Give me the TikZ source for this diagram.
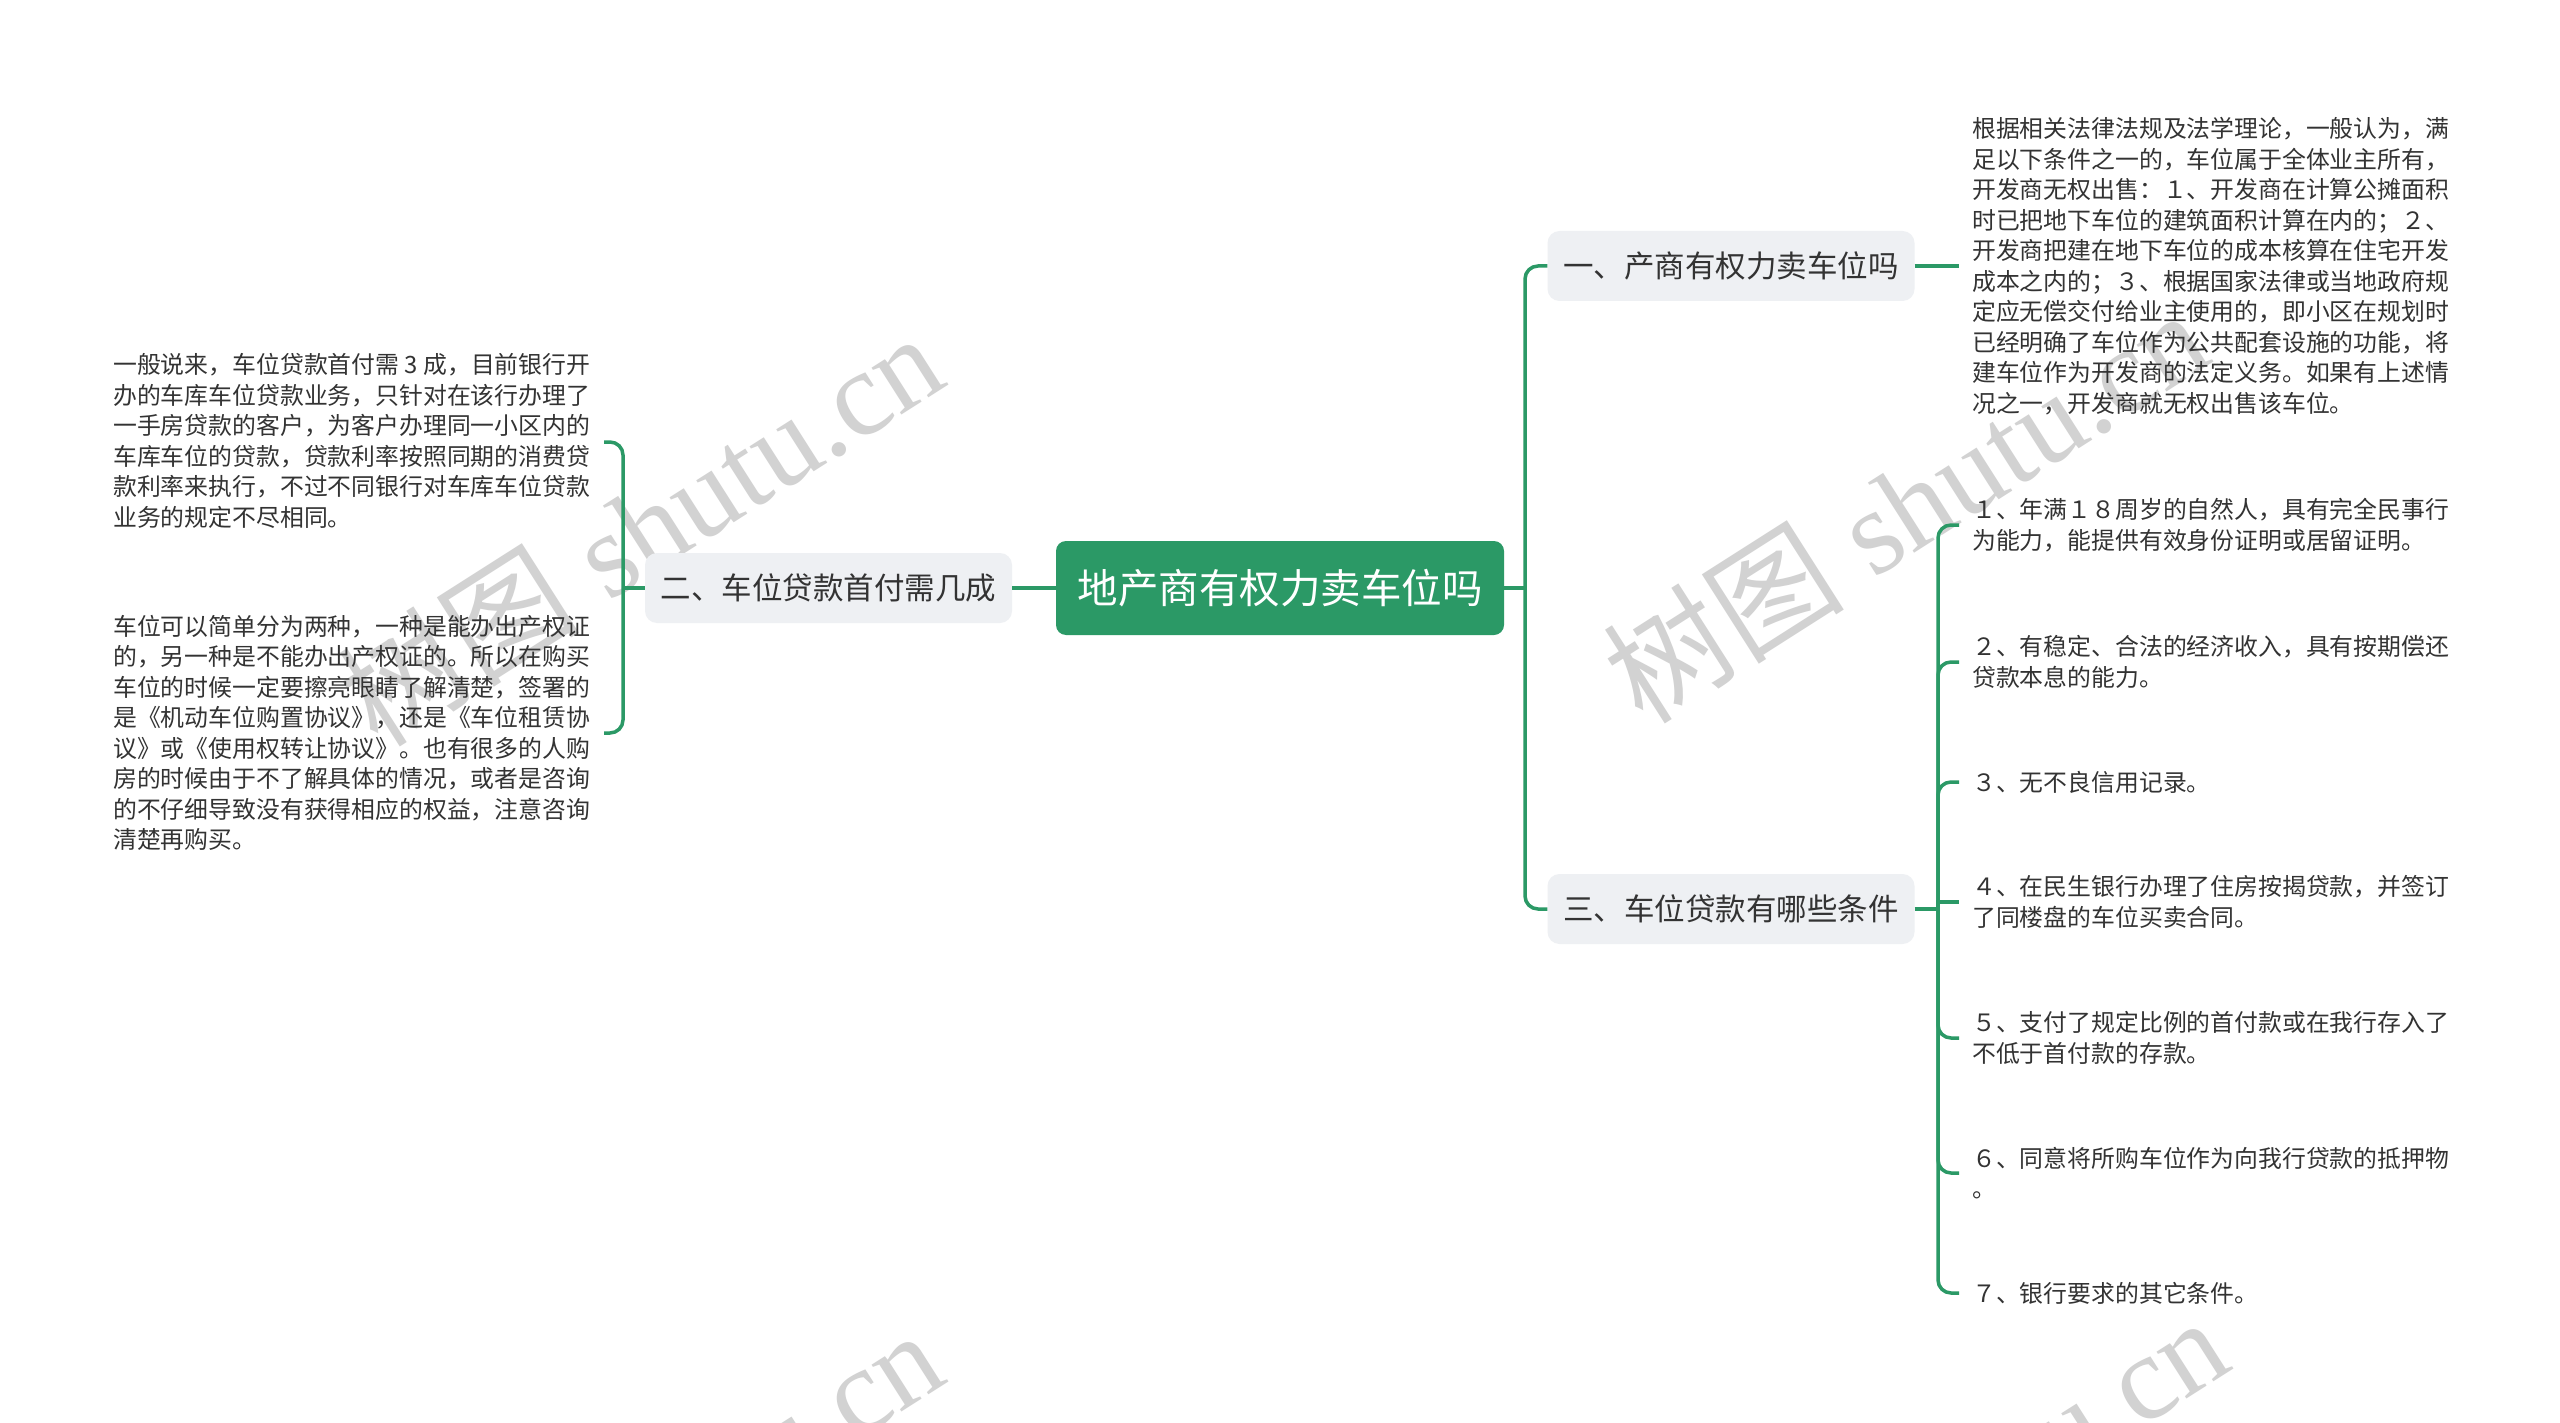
\documentclass[tikz,border=0pt]{standalone}
\usepackage{fontspec}
\setmainfont{Noto Sans CJK SC}
\newfontfamily\wmcjk{Noto Sans CJK SC}
\newfontfamily\wmlat{Liberation Serif}
\definecolor{mgreen}{RGB}{43,153,102}
\definecolor{nodegray}{RGB}{238,240,243}
\definecolor{txt}{RGB}{51,51,51}
\definecolor{wmgray}{RGB}{210,210,210}
\tikzset{
  conn/.style={draw=mgreen, line width=3.5pt, rounded corners=13pt},
  rootbox/.style={fill=mgreen, rounded corners=10pt, inner sep=0pt, minimum width=448pt, minimum height=94pt, text=white, font=\fontsize{40.5}{48}\selectfont},
  topicbox/.style={fill=nodegray, rounded corners=12pt, inner sep=0pt, minimum width=367pt, minimum height=70pt, text=txt, font=\fontsize{30.5}{36}\selectfont},
  leaftext/.style={anchor=west, align=left, inner sep=0pt, text=txt, font=\fontsize{23.85}{30.5}\selectfont},
  wmark/.style={rotate=32.5, text=wmgray, inner sep=0pt, font=\fontsize{121}{130}\selectfont}
}
\begin{document}
\begin{tikzpicture}[x=1pt,y=-1pt]
\clip (0,0) rectangle (2560,1423);
\fill[white] (0,0) rectangle (2560,1423);

% watermarks
\node[wmark] (wm1) at (640,528) {\wmcjk 树图\wmlat{} shutu.cn};
\node[wmark] (wm2) at (1905,505) {\wmcjk 树图\wmlat{} shutu.cn};
\node[wmark] (wm3) at (640,1525) {\wmcjk 树图\wmlat{} shutu.cn};
\node[wmark] (wm4) at (1925,1512) {\wmcjk 树图\wmlat{} shutu.cn};

% main nodes
\node[rootbox] (root) at (1280,588) {地产商有权力卖车位吗};
\node[topicbox] (t2) at (828.5,588) {二、车位贷款首付需几成};
\node[topicbox] (t1) at (1731,266) {一、产商有权力卖车位吗};
\node[topicbox] (t3) at (1731,909) {三、车位贷款有哪些条件};

% junctions
\coordinate (rj) at (1525,588);
\coordinate (lj) at (623,588);
\coordinate (bj) at (1938,909);
\coordinate (e1) at (1959,266);
\coordinate (l1) at (604,442);
\coordinate (l2) at (604,733);
\coordinate (r1) at (1959,525);
\coordinate (r2) at (1959,662);
\coordinate (r3) at (1959,782);
\coordinate (r4) at (1959,902);
\coordinate (r5) at (1959,1038);
\coordinate (r6) at (1959,1173);
\coordinate (r7) at (1959,1293);

% connectors
\draw[conn] (root.east) -- (rj);
\draw[conn] (rj) |- (t1.west);
\draw[conn] (rj) |- (t3.west);
\draw[conn] (root.west) -- (t2.east);
\draw[conn] (t2.west) -- (lj);
\draw[conn] (lj) |- (l1);
\draw[conn] (lj) |- (l2);
\draw[conn] (t1.east) -- (e1);
\draw[conn] (t3.east) -- (bj);
\draw[conn] (bj) |- (r1);
\draw[conn] (bj) |- (r2);
\draw[conn] (bj) |- (r3);
\draw[conn, sharp corners] (bj) |- (r4);
\draw[conn] (bj) |- (r5);
\draw[conn] (bj) |- (r6);
\draw[conn] (bj) |- (r7);

% texts
\node[leaftext] (d1) at (1972,266) {根据相关法律法规及法学理论，一般认为，满\\足以下条件之一的，车位属于全体业主所有，\\开发商无权出售：１、开发商在计算公摊面积\\时已把地下车位的建筑面积计算在内的；２、\\开发商把建在地下车位的成本核算在住宅开发\\成本之内的；３、根据国家法律或当地政府规\\定应无偿交付给业主使用的，即小区在规划时\\已经明确了车位作为公共配套设施的功能，将\\建车位作为开发商的法定义务。如果有上述情\\况之一，开发商就无权出售该车位。};

\node[leaftext] (a1) at (113,441) {一般说来，车位贷款首付需 3 成，目前银行开\\办的车库车位贷款业务，只针对在该行办理了\\一手房贷款的客户，为客户办理同一小区内的\\车库车位的贷款，贷款利率按照同期的消费贷\\款利率来执行，不过不同银行对车库车位贷款\\业务的规定不尽相同。};
\node[leaftext] (a2) at (113,733) {车位可以简单分为两种，一种是能办出产权证\\的，另一种是不能办出产权证的。所以在购买\\车位的时候一定要擦亮眼睛了解清楚，签署的\\是《机动车位购置协议》，还是《车位租赁协\\议》或《使用权转让协议》。也有很多的人购\\房的时候由于不了解具体的情况，或者是咨询\\的不仔细导致没有获得相应的权益，注意咨询\\清楚再购买。};

\node[leaftext] (c1) at (1972,525) {１、年满１８周岁的自然人，具有完全民事行\\为能力，能提供有效身份证明或居留证明。};
\node[leaftext] (c2) at (1972,662) {２、有稳定、合法的经济收入，具有按期偿还\\贷款本息的能力。};
\node[leaftext] (c3) at (1972,782) {３、无不良信用记录。};
\node[leaftext] (c4) at (1972,902) {４、在民生银行办理了住房按揭贷款，并签订\\了同楼盘的车位买卖合同。};
\node[leaftext] (c5) at (1972,1038) {５、支付了规定比例的首付款或在我行存入了\\不低于首付款的存款。};
\node[leaftext] (c6) at (1972,1173) {６、同意将所购车位作为向我行贷款的抵押物\\。};
\node[leaftext] (c7) at (1972,1293) {７、银行要求的其它条件。};
\end{tikzpicture}
\end{document}
